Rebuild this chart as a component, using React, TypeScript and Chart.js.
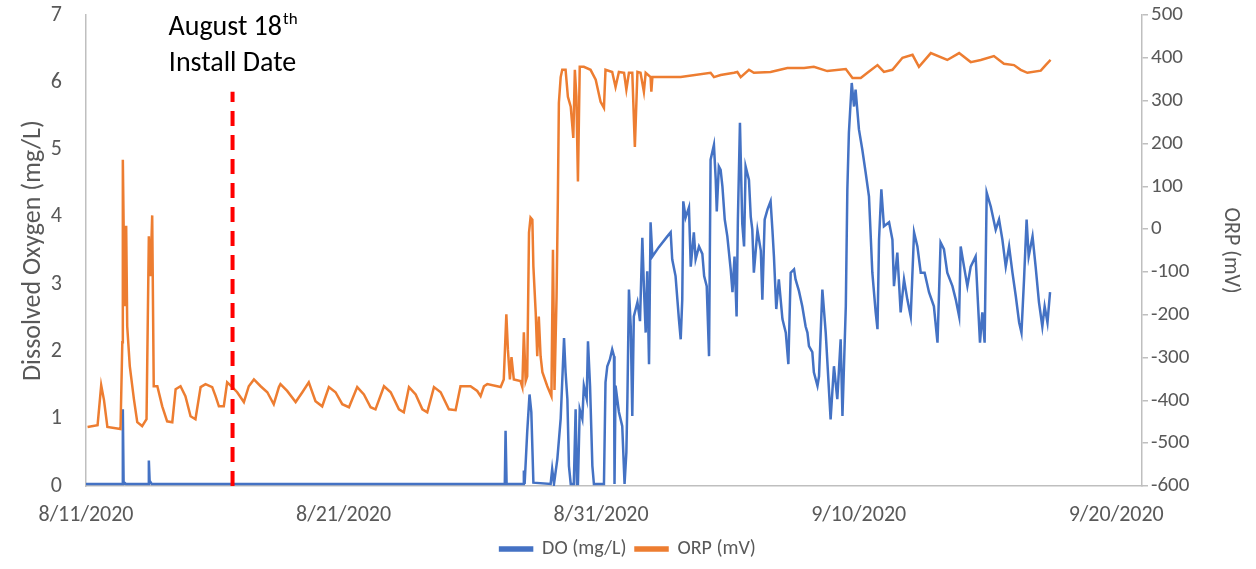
import React, { useEffect, useRef } from 'react';
import { Chart, registerables } from 'chart.js';

Chart.register(...registerables);

// x axis: days since 8/11/2020
const xTickDays = [0, 10, 20, 30, 40];
const xTickLabels = ['8/11/2020', '8/21/2020', '8/31/2020', '9/10/2020', '9/20/2020'];
const xMin = 0;
const xMax = 41;

const doTicks = [0, 1, 2, 3, 4, 5, 6, 7];
const orpTicks = [-600, -500, -400, -300, -200, -100, 0, 100, 200, 300, 400, 500];

const seriesNames = ['DO (mg/L)', 'ORP (mV)'];
const axisTitles = ['Dissolved Oxygen (mg/L)', 'ORP (mV)'];

// [day, mg/L]
const doSeries: [number, number][] = [
  [0, 0.03], [1.4, 0.03], [1.43, 1.14], [1.46, 0.06], [1.55, 0.03], [2.42, 0.03], [2.44, 0.38], [2.47, 0.08], [2.55, 0.03],
  [16.26, 0.03], [16.29, 0.82], [16.33, 0.03], [16.98, 0.03], [17.0, 0.23], [17.03, 0.03], [17.13, 0.8], [17.22, 1.36],
  [17.29, 1.1], [17.37, 0.05], [18.04, 0.03], [18.1, 0.25], [18.17, 0.03], [18.3, 0.4], [18.43, 1.0], [18.56, 2.2],
  [18.62, 1.69], [18.69, 1.29], [18.75, 0.3], [18.82, 0.03], [18.94, 0.03], [19.01, 1.14], [19.06, 0.03], [19.1, 0.03],
  [19.17, 1.14], [19.27, 1.0], [19.33, 1.49], [19.44, 1.3], [19.49, 2.15], [19.57, 1.49], [19.66, 0.3], [19.72, 0.03],
  [20.11, 0.03], [20.17, 1.54], [20.24, 1.78], [20.34, 1.88], [20.43, 2.03], [20.5, 1.93], [20.52, 0.03], [20.56, 1.49],
  [20.69, 1.1], [20.82, 0.89], [20.91, 0.03], [20.98, 0.5], [21.02, 1.29], [21.08, 2.92], [21.15, 2.37], [21.21, 1.04],
  [21.27, 2.52], [21.41, 2.73], [21.51, 2.45], [21.6, 3.69], [21.66, 2.97], [21.73, 2.28], [21.79, 3.19], [21.86, 1.81],
  [21.92, 3.92], [21.99, 3.41], [22.24, 3.55], [22.57, 3.71], [22.7, 3.77], [22.76, 3.37], [22.89, 3.12], [23.02, 2.48],
  [23.09, 2.18], [23.15, 2.77], [23.19, 4.23], [23.28, 3.99], [23.41, 4.14], [23.48, 3.26], [23.6, 3.77], [23.67, 3.37],
  [23.8, 3.56], [23.93, 3.45], [24.0, 3.12], [24.1, 2.97], [24.19, 1.93], [24.25, 4.85], [24.38, 5.07], [24.45, 4.55],
  [24.49, 4.08], [24.57, 4.75], [24.64, 4.7], [24.71, 4.45], [24.8, 3.96], [24.9, 3.71], [25.03, 3.22], [25.1, 2.88],
  [25.18, 3.41], [25.26, 2.52], [25.31, 3.96], [25.39, 5.4], [25.48, 3.9], [25.55, 3.56], [25.61, 4.75], [25.74, 4.55],
  [25.81, 4.0], [25.87, 3.81], [25.93, 3.17], [26.07, 3.8], [26.2, 3.5], [26.26, 2.77], [26.35, 3.96], [26.46, 4.11],
  [26.58, 4.23], [26.65, 3.81], [26.71, 3.41], [26.8, 2.63], [26.9, 3.07], [27.04, 2.48], [27.17, 2.28], [27.27, 1.81],
  [27.36, 3.17], [27.49, 3.22], [27.55, 3.07], [27.68, 2.9], [27.81, 2.67], [27.94, 2.37], [28.01, 2.28], [28.07, 2.08],
  [28.2, 1.99], [28.26, 1.69], [28.4, 1.49], [28.46, 1.63], [28.59, 2.92], [28.72, 2.28], [28.91, 0.99], [29.04, 1.78],
  [29.17, 1.29], [29.3, 2.18], [29.37, 1.04], [29.5, 2.67], [29.56, 4.41], [29.62, 5.25], [29.73, 5.99], [29.82, 5.64],
  [29.88, 5.89], [30.01, 5.3], [30.14, 5.0], [30.27, 4.66], [30.4, 4.3], [30.53, 3.17], [30.66, 2.58], [30.73, 2.33],
  [30.79, 3.66], [30.88, 4.41], [30.98, 3.86], [31.18, 3.92], [31.31, 3.66], [31.37, 2.97], [31.5, 3.47], [31.63, 2.58],
  [31.76, 3.07], [31.89, 2.77], [32.02, 2.52], [32.15, 3.77], [32.28, 3.56], [32.41, 3.17], [32.56, 3.17], [32.73, 2.88],
  [32.92, 2.67], [33.06, 2.13], [33.18, 3.62], [33.31, 3.52], [33.44, 3.17], [33.64, 2.97], [33.77, 2.77], [33.9, 2.52],
  [33.96, 3.56], [34.09, 3.26], [34.22, 2.97], [34.35, 3.26], [34.54, 3.41], [34.61, 2.88], [34.71, 2.13], [34.8, 2.58],
  [34.89, 2.13], [34.97, 4.36], [35.13, 4.15], [35.32, 3.81], [35.45, 3.96], [35.58, 3.66], [35.71, 3.26], [35.84, 3.56],
  [35.97, 3.17], [36.1, 2.82], [36.23, 2.43], [36.32, 2.28], [36.42, 3.07], [36.52, 3.96], [36.6, 3.41], [36.75, 3.71],
  [36.87, 3.26], [37.0, 2.73], [37.13, 2.37], [37.22, 2.67], [37.33, 2.43], [37.43, 2.88],
];

// [day, mV]
const orpSeries: [number, number][] = [
  [0.06, -462], [0.45, -458], [0.59, -365], [0.7, -400], [0.83, -462], [1.34, -467], [1.41, -264], [1.43, 162],
  [1.5, -180], [1.56, 8], [1.6, -227], [1.7, -320], [1.86, -397], [1.99, -451], [2.18, -460], [2.35, -444],
  [2.44, -17], [2.5, -110], [2.57, 32], [2.63, -367], [2.77, -367], [2.96, -414], [3.15, -449], [3.35, -451],
  [3.48, -374], [3.67, -367], [3.86, -390], [4.06, -437], [4.25, -444], [4.45, -369], [4.64, -362], [4.9, -369],
  [5.03, -390], [5.16, -414], [5.35, -414], [5.48, -358], [5.68, -369], [5.87, -381], [6.13, -404], [6.32, -367],
  [6.52, -351], [6.78, -367], [7.04, -381], [7.29, -409], [7.49, -369], [7.55, -362], [7.81, -378], [8.14, -404],
  [8.4, -381], [8.65, -358], [8.91, -402], [9.17, -414], [9.43, -369], [9.69, -381], [9.95, -409], [10.21, -416],
  [10.53, -369], [10.79, -386], [11.05, -416], [11.24, -421], [11.57, -367], [11.83, -381], [12.15, -421], [12.34, -428],
  [12.54, -369], [12.8, -386], [13.06, -421], [13.25, -428], [13.51, -369], [13.77, -381], [14.09, -421], [14.35, -423],
  [14.54, -367], [14.93, -367], [15.19, -378], [15.32, -390], [15.45, -367], [15.58, -362], [16.1, -369], [16.22, -351],
  [16.32, -199], [16.38, -281], [16.46, -351], [16.52, -299], [16.61, -351], [16.87, -355], [16.94, -369], [17.0, -241],
  [17.07, -355], [17.13, -344], [17.2, -8], [17.26, 27], [17.33, 22], [17.37, -87], [17.46, -195], [17.52, -297],
  [17.58, -204], [17.65, -297], [17.72, -334], [17.91, -367], [18.07, -390], [18.13, -48], [18.19, -376], [18.27, -157],
  [18.32, 69], [18.36, 295], [18.43, 355], [18.49, 372], [18.62, 372], [18.71, 309], [18.82, 286], [18.92, 213],
  [18.98, 372], [19.04, 309], [19.1, 111], [19.17, 379], [19.33, 379], [19.59, 372], [19.79, 349], [19.98, 297],
  [20.11, 283], [20.17, 372], [20.43, 367], [20.56, 332], [20.69, 367], [20.89, 365], [20.98, 326], [21.08, 365],
  [21.21, 365], [21.31, 192], [21.41, 367], [21.53, 365], [21.66, 321], [21.73, 365], [21.92, 355], [21.95, 321],
  [21.99, 355], [23.09, 355], [24.25, 365], [24.38, 355], [24.64, 360], [25.16, 365], [25.29, 367], [25.42, 355],
  [25.74, 372], [25.93, 365], [26.58, 367], [27.23, 376], [27.88, 376], [28.26, 379], [28.78, 369], [29.5, 374],
  [29.76, 353], [30.08, 353], [30.34, 365], [30.73, 383], [30.98, 367], [31.31, 372], [31.7, 400], [32.09, 407],
  [32.34, 379], [32.8, 411], [33.44, 395], [33.9, 411], [34.35, 390], [34.74, 395], [35.25, 404], [35.64, 386],
  [36.03, 383], [36.29, 372], [36.55, 365], [37.07, 370], [37.26, 383], [37.45, 395],
];

// Install-date marker (red dashed line) on the DO axis
const installDay = 5.69;
const installTop = 5.86;
const installLine: [number, number][] = [[installDay, 0], [installDay, installTop]];
const annotationMain = 'August 18';
const annotationSup = 'th';
const annotationLine2 = 'Install Date';

const FONT = "Carlito, Calibri, Lato, 'Open Sans', sans-serif";
const GRAY = '#595959';
const AXIS = '#bfbfbf';

const toXY = (arr: [number, number][]) => arr.map(([x, y]) => ({ x, y }));

const annotationPlugin = {
  id: 'installAnnotation',
  afterDatasetsDraw(chart: any) {
    const { ctx, scales } = chart;
    const cx = scales.x.getPixelForValue(installDay);
    const top = chart.chartArea.top;
    ctx.save();
    ctx.fillStyle = '#000000';
    ctx.textBaseline = 'alphabetic';
    ctx.font = `28px ${FONT}`;
    const wMain = ctx.measureText(annotationMain).width;
    ctx.font = `17px ${FONT}`;
    const wSup = ctx.measureText(annotationSup).width;
    const start = cx - (wMain + wSup) / 2;
    ctx.font = `28px ${FONT}`;
    ctx.textAlign = 'left';
    ctx.fillText(annotationMain, start, top + 20);
    ctx.font = `17px ${FONT}`;
    ctx.fillText(annotationSup, start + wMain + 1, top + 9);
    ctx.font = `28px ${FONT}`;
    ctx.textAlign = 'center';
    ctx.fillText(annotationLine2, cx, top + 56);
    ctx.restore();
  },
};

export default function App() {
  const ref = useRef<HTMLCanvasElement | null>(null);
  useEffect(() => {
    document.body.style.margin = '0';
    document.body.style.background = '#ffffff';
    if (!ref.current) return;
    const chart = new Chart(ref.current, {
      type: 'line',
      data: {
        datasets: [
          {
            label: seriesNames[0],
            data: toXY(doSeries),
            yAxisID: 'y',
            borderColor: '#4472C4',
            backgroundColor: '#4472C4',
            borderWidth: 2.5,
            pointRadius: 0,
            tension: 0,
            order: 2,
          },
          {
            label: seriesNames[1],
            data: toXY(orpSeries),
            yAxisID: 'y1',
            borderColor: '#ED7D31',
            backgroundColor: '#ED7D31',
            borderWidth: 2.5,
            pointRadius: 0,
            tension: 0,
            order: 1,
          },
          {
            label: 'install',
            data: toXY(installLine),
            yAxisID: 'y',
            borderColor: '#FF0000',
            backgroundColor: '#FF0000',
            borderWidth: 4,
            borderDash: [15, 9],
            pointRadius: 0,
            order: 0,
          },
        ],
      },
      options: {
        animation: false,
        responsive: false,
        devicePixelRatio: 1,
        layout: { padding: { top: 15, left: 0, right: 0, bottom: 0 } },
        plugins: {
          legend: {
            position: 'bottom',
            labels: {
              filter: (item: any) => item.datasetIndex < 2,
              sort: (a: any, b: any) => a.datasetIndex - b.datasetIndex,
              boxWidth: 32,
              boxHeight: 3,
              padding: 9,
              color: GRAY,
              font: { family: FONT, size: 20 },
            },
          },
          tooltip: { enabled: false },
        },
        scales: {
          x: {
            type: 'linear',
            min: xMin,
            max: xMax,
            grid: { display: false, drawTicks: false },
            border: { display: true, color: AXIS, width: 1.5 },
            afterBuildTicks: (scale: any) => {
              scale.ticks = xTickDays.map((v) => ({ value: v }));
            },
            afterFit: (scale: any) => {
              scale.height = 44;
            },
            ticks: {
              padding: 16,
              maxRotation: 0,
              autoSkip: false,
              color: GRAY,
              font: { family: FONT, size: 22 },
              callback: (v: any) => {
                const i = xTickDays.indexOf(Number(v));
                return i >= 0 ? xTickLabels[i] : '';
              },
            },
          },
          y: {
            type: 'linear',
            position: 'left',
            min: doTicks[0],
            max: doTicks[doTicks.length - 1],
            grid: { display: false, drawTicks: false },
            border: { display: true, color: AXIS, width: 1.5 },
            afterBuildTicks: (scale: any) => {
              scale.ticks = doTicks.map((v) => ({ value: v }));
            },
            afterFit: (scale: any) => {
              scale.width = 86;
              scale.paddingTop = 0;
              scale.paddingBottom = 0;
            },
            ticks: {
              padding: 24,
              color: GRAY,
              font: { family: FONT, size: 22 },
            },
            title: {
              display: true,
              text: axisTitles[0],
              color: GRAY,
              font: { family: FONT, size: 26 },
              padding: { top: 18, bottom: 0 },
            },
          },
          y1: {
            type: 'linear',
            position: 'right',
            min: orpTicks[0],
            max: orpTicks[orpTicks.length - 1],
            grid: {
              display: true,
              drawOnChartArea: false,
              drawTicks: true,
              tickLength: 6,
              color: AXIS,
              lineWidth: 1.5,
            },
            border: { display: true, color: AXIS, width: 1.5 },
            afterBuildTicks: (scale: any) => {
              scale.ticks = orpTicks.map((v) => ({ value: v }));
            },
            afterFit: (scale: any) => {
              scale.width = 114;
              scale.paddingTop = 0;
              scale.paddingBottom = 0;
            },
            ticks: {
              padding: 3,
              color: GRAY,
              font: { family: FONT, size: 21 },
            },
            title: {
              display: true,
              text: axisTitles[1],
              color: GRAY,
              font: { family: FONT, size: 22 },
              padding: { top: 12, bottom: 0 },
            },
          },
        },
      },
      plugins: [annotationPlugin],
    } as any);
    return () => chart.destroy();
  }, []);
  return <canvas ref={ref} width={1256} height={569} style={{ display: 'block' }} />;
}
